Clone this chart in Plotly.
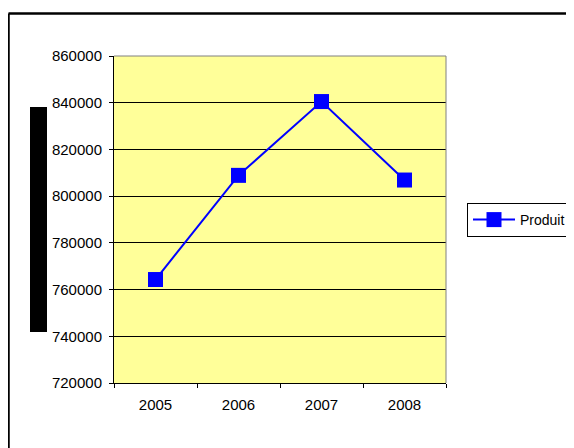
import plotly.graph_objects as go

years = ["2005", "2006", "2007", "2008"]
produit = [764300, 808900, 840500, 806900]
y_ticks = [720000, 740000, 760000, 780000, 800000, 820000, 840000, 860000]

OFF = 8  # page body margin in the viewer
W, H = 574, 448
# plot area in reference pixels: x 114..446, y 56..383
PX0, PX1, PY0, PY1 = 114 - OFF, 446 - OFF, 56 - OFF, 383 - OFF
L, R, T, B = PX0, W - PX1, PY0, H - PY1
pw, ph = PX1 - PX0, PY1 - PY0

def px_x(x):
    return (x - OFF - PX0) / pw

def px_y(y):
    return (PY1 - (y - OFF)) / ph

fig = go.Figure()
fig.add_trace(go.Scatter(
    x=years, y=produit, name="Produit", mode="lines+markers",
    line=dict(color="#0000FF", width=2),
    marker=dict(symbol="square", size=15, color="#0000FF"),
))

font = dict(family="Liberation Sans, Arial, sans-serif", size=15, color="black")
legend_font = dict(family="Liberation Sans, Arial, sans-serif", size=14, color="black")

fig.update_layout(
    width=W, height=H,
    margin=dict(l=L, r=R, t=T, b=B, autoexpand=False),
    paper_bgcolor="white",
    plot_bgcolor="#FFFF99",
    font=font,
    showlegend=True,
    legend=dict(
        x=px_x(467), y=px_y(203), xanchor="left", yanchor="top",
        bordercolor="black", borderwidth=1, bgcolor="white",
        font=legend_font, itemwidth=42,
    ),
    xaxis=dict(
        type="category", range=[-0.5, 3.5],
        showgrid=False, showline=True, linecolor="black", linewidth=1,
        ticks="outside", tickson="boundaries", ticklen=4, tickcolor="black",
        tickfont=font, zeroline=False, ticklabelstandoff=8,
    ),
    yaxis=dict(
        range=[720000, 860000], tickvals=y_ticks, tickformat="d",
        showgrid=True, gridcolor="black", gridwidth=1,
        showline=True, linecolor="black", linewidth=1,
        ticks="outside", ticklen=4, tickcolor="black",
        tickfont=font, zeroline=False, ticklabelstandoff=4,
    ),
    shapes=[
        dict(type="line", xref="paper", yref="paper", x0=0, x1=1, y0=1, y1=1,
             line=dict(color="#808080", width=1), layer="above"),
        dict(type="line", xref="paper", yref="paper", x0=1, x1=1, y0=0, y1=1,
             line=dict(color="#808080", width=1), layer="above"),
        dict(type="rect", xref="paper", yref="paper",
             x0=px_x(30), x1=px_x(47), y0=px_y(332), y1=px_y(107),
             fillcolor="black", line=dict(width=0)),
        # outer chart border (left and top edges; right/bottom lie off-page)
        dict(type="line", xref="paper", yref="paper",
             x0=px_x(8.5), x1=px_x(8.5), y0=px_y(13.5), y1=px_y(470),
             line=dict(color="black", width=2.5)),
        dict(type="line", xref="paper", yref="paper",
             x0=px_x(8.5), x1=px_x(620), y0=px_y(13.5), y1=px_y(13.5),
             line=dict(color="black", width=2.5)),
    ],
)

fig.write_html("out.html")
